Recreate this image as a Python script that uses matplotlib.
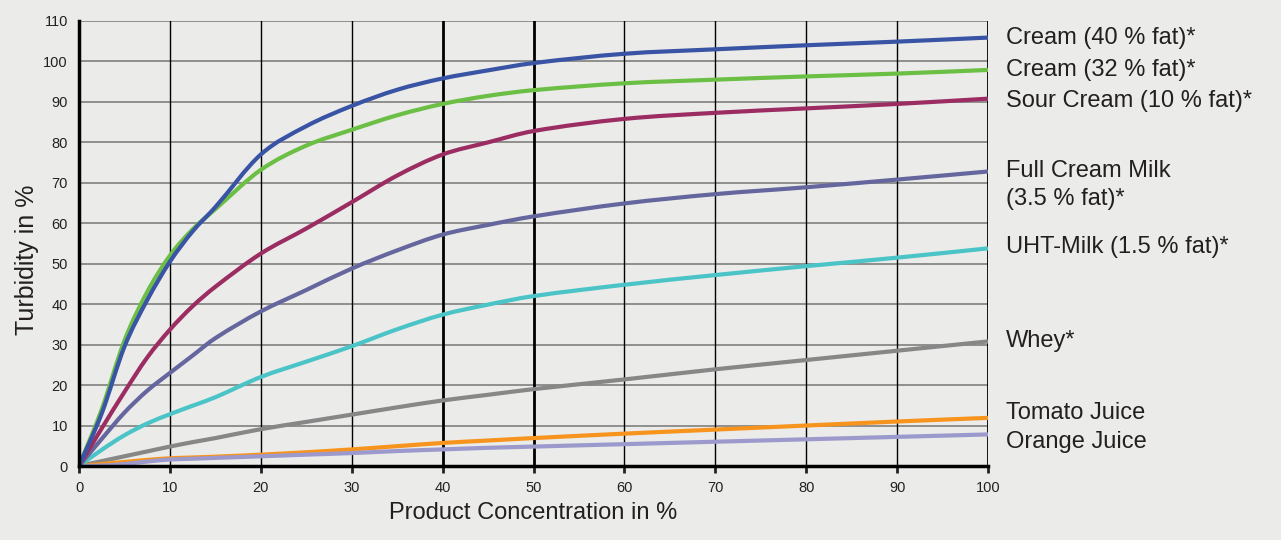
import numpy as np
import matplotlib
matplotlib.use("Agg")
import matplotlib.pyplot as plt
from matplotlib.path import Path
from matplotlib.patches import PathPatch

plt.rcParams['font.family'] = ['Liberation Sans', 'DejaVu Sans']

# product concentration in %
conc = [0, 2.5, 5, 7.5, 10, 12.5, 15, 20, 25, 30, 35, 40, 45, 50, 60, 70, 80, 90, 100]

cream_40 = [0, 13, 29.5, 41, 50.5, 58, 64, 77, 84, 89, 93, 95.8, 97.8, 99.6, 101.9, 103, 104, 104.9, 105.9]
cream_32 = [0, 14, 31, 43, 52, 58.5, 63.5, 73.2, 79.2, 83.1, 86.7, 89.5, 91.5, 92.9, 94.6, 95.5, 96.3, 97, 97.9]
sour_cream = [0, 9.3, 18.3, 26.8, 33.7, 39.5, 44.3, 52.5, 58.7, 65.2, 71.8, 77, 80, 82.8, 85.8, 87.3, 88.4, 89.5, 90.8]
full_milk = [0, 6.7, 13.2, 18.6, 23.0, 27.3, 31.6, 38.2, 43.5, 48.8, 53.3, 57.2, 59.6, 61.7, 64.9, 67.2, 68.9, 70.8, 72.8]
uht_milk = [0, 4.0, 7.6, 10.5, 12.8, 14.9, 17.0, 22, 25.8, 29.6, 33.8, 37.4, 39.9, 42, 44.8, 47.2, 49.4, 51.5, 53.8]
whey = [0, 1.2, 2.4, 3.6, 4.8, 5.9, 6.9, 9.1, 10.9, 12.7, 14.5, 16.2, 17.6, 19, 21.4, 23.9, 26.2, 28.5, 30.8]
tomato = [0, 0.5, 1.0, 1.5, 1.9, 2.1, 2.3, 2.8, 3.4, 4.1, 4.9, 5.7, 6.3, 6.9, 8, 9, 10, 11, 11.9]
orange = [0, 0.1, 0.5, 1.1, 1.6, 1.8, 2.0, 2.4, 2.8, 3.2, 3.7, 4.1, 4.5, 4.8, 5.4, 6.0, 6.6, 7.2, 7.8]

labels = ["Cream (40 % fat)*", "Cream (32 % fat)*", "Sour Cream (10 % fat)*",
          "Full Cream Milk", "(3.5 % fat)*", "UHT-Milk (1.5 % fat)*", "Whey*",
          "Tomato Juice", "Orange Juice"]
label_y = [104.2, 96.3, 88.8, 71.5, 64.5, 52.6, 29.5, 11.6, 4.45]


def smooth_path(x, y):
    """Bezier path through the points, like a 'smoothed line' chart."""
    x = np.asarray(x, float)
    y = np.asarray(y, float)
    n = len(x)
    s = np.zeros(n)
    s[0] = (y[1] - y[0]) / (x[1] - x[0])
    s[-1] = (y[-1] - y[-2]) / (x[-1] - x[-2])
    for i in range(1, n - 1):
        s[i] = (y[i + 1] - y[i - 1]) / (x[i + 1] - x[i - 1])
    verts = [(x[0], y[0])]
    codes = [Path.MOVETO]
    for i in range(n - 1):
        h = x[i + 1] - x[i]
        verts += [(x[i] + h / 3, y[i] + s[i] * h / 3),
                  (x[i + 1] - h / 3, y[i + 1] - s[i + 1] * h / 3),
                  (x[i + 1], y[i + 1])]
        codes += [Path.CURVE4] * 3
    return Path(verts, codes)


bg = '#ebebe9'
ink = '#231f20'
fig = plt.figure(figsize=(12.81, 5.40), dpi=100, facecolor=bg)
ax = fig.add_axes([79 / 1281, 1 - 466 / 540, (988 - 79) / 1281, (466 - 21) / 540])
ax.set_facecolor(bg)

# grid
for yv in range(10, 111, 10):
    ax.axhline(yv, color='#767676', lw=1.1, zorder=1)
for xv in range(10, 100, 10):
    ax.axvline(xv, color='black', lw=2.0 if xv in (40, 50) else 1.0, zorder=1)
ax.axvline(100, color='black', lw=2.0, zorder=1)

series = [
    (whey, '#878787'),
    (tomato, '#f7941d'),
    (orange, '#9c9acc'),
    (uht_milk, '#4ac4c6'),
    (full_milk, '#66669e'),
    (sour_cream, '#9b2d63'),
    (cream_32, '#6cbf45'),
    (cream_40, '#3954a5'),
]
for vals, col in series:
    ax.add_patch(PathPatch(smooth_path(conc, vals), fill=False, edgecolor=col,
                           lw=3.0, capstyle='butt', zorder=3))

ax.set_xlim(0, 100)
ax.set_ylim(0, 110)
ax.set_xticks(range(0, 101, 10))
ax.set_yticks(range(0, 111, 10))
for s in ('top', 'right'):
    ax.spines[s].set_visible(False)
for s in ('left', 'bottom'):
    ax.spines[s].set_linewidth(2.5)
    ax.spines[s].set_zorder(4)
ax.tick_params(axis='x', direction='out', length=5, width=2, labelsize=10.5, colors='#222222', pad=6)
ax.tick_params(axis='y', length=0, labelsize=10.5, colors='#222222', pad=8)

fig.text(533 / 1281, 1 - 519 / 540, "Product Concentration in %", fontsize=17,
         color=ink, ha='center', va='baseline')
fig.text(27 / 1281, 1 - 260 / 540, "Turbidity in %", fontsize=18, color=ink,
         ha='center', va='center', rotation=90)

for txt, yv in zip(labels, label_y):
    ax.text(102, yv, txt, fontsize=17, color=ink, va='baseline', ha='left',
            clip_on=False)

fig.savefig("out.png", dpi=100, facecolor=bg)
